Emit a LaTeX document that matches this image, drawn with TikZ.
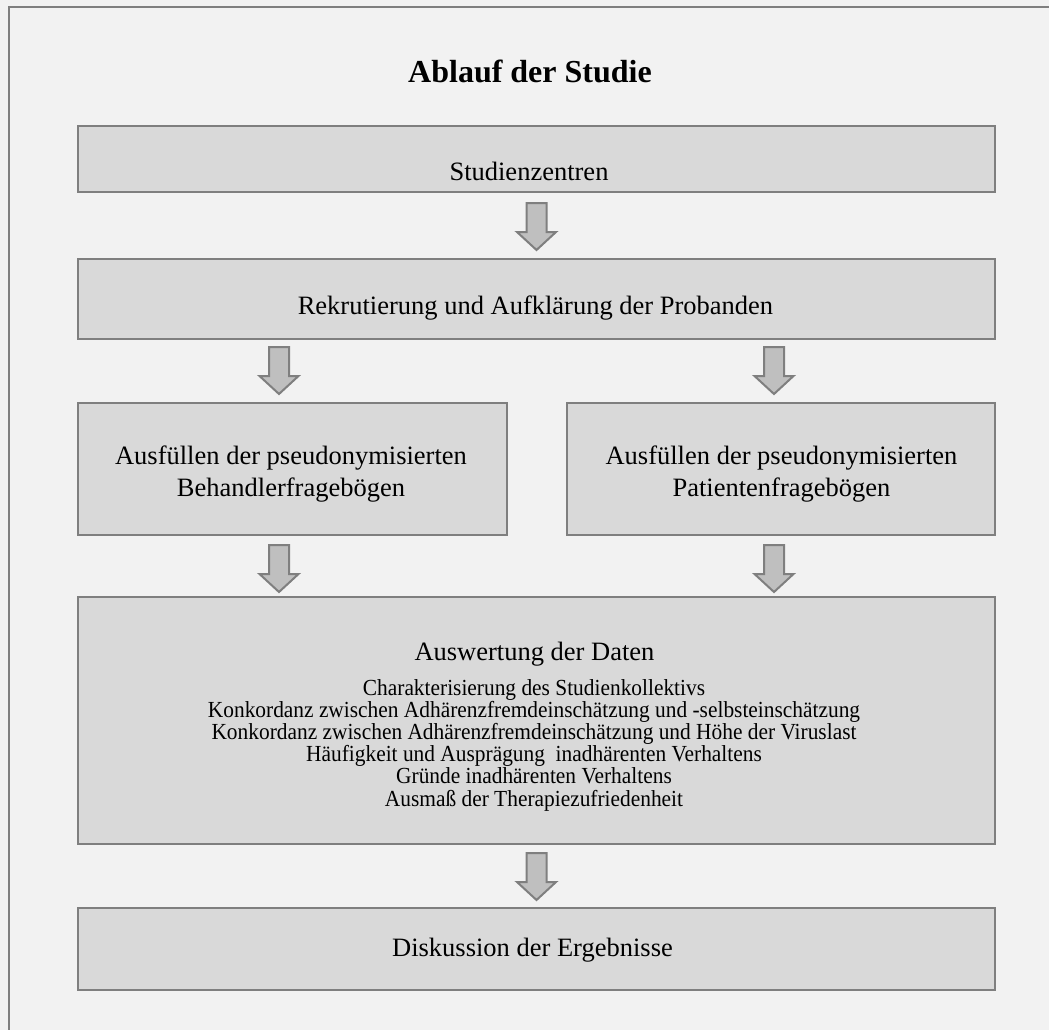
\documentclass[tikz,border=0pt]{standalone}
\usepackage{fontspec}
\setmainfont{Liberation Serif}
\usetikzlibrary{calc}
\definecolor{bgc}{HTML}{F2F2F2}
\definecolor{boxc}{HTML}{D9D9D9}
\definecolor{linec}{HTML}{7F7F7F}
\definecolor{arrc}{HTML}{BFBFBF}
\newcommand{\narrowtxt}[1]{\scalebox{0.93}[1]{#1}}
\tikzset{
  flowbox/.style={draw=linec, fill=boxc, line width=2.5pt, inner sep=0pt, outer sep=0pt, miter limit=10},
  bigtxt/.style={font=\fontsize{26.5}{32}\selectfont, anchor=base, inner sep=0pt},
  smalltxt/.style={font=\fontsize{23}{23.4}\selectfont, anchor=base, inner sep=0pt},
  arrowfill/.style={draw=linec, fill=arrc, line width=2pt, line join=miter},
  dnarrow/.pic={\draw[arrowfill] (-10,0) -- (10,0) -- (10,29) -- (19.5,29) -- (0,47) -- (-19.5,29) -- (-10,29) -- cycle;}
}
\begin{document}
\begin{tikzpicture}[x=1pt, y=-1pt]
\useasboundingbox (0,0) rectangle (1049,1030);
\fill[bgc] (0,0) rectangle (1049,1030);
\draw[linec, line width=2.5pt] (9,1030) -- (9,7) -- (1049,7);

\node[font=\fontsize{32}{38}\selectfont\bfseries, anchor=base, inner sep=0pt] (title) at (530,83) {Ablauf der Studie};

\node[flowbox, minimum width=917, minimum height=66] (b1) at (536.5,159) {};
\node[flowbox, minimum width=917, minimum height=80] (b2) at (536.5,299) {};
\node[flowbox, minimum width=429, minimum height=132] (b3l) at (292.5,469) {};
\node[flowbox, minimum width=428, minimum height=132] (b3r) at (781,469) {};
\node[flowbox, minimum width=917, minimum height=247] (b4) at (536.5,720.5) {};
\node[flowbox, minimum width=917, minimum height=82] (b5) at (536.5,949) {};

\node[bigtxt] (t1) at (529,180) {Studienzentren};
\node[bigtxt] (t2) at (535.5,314) {Rekrutierung und Aufklärung der Probanden};
\node[bigtxt] (t3la) at (291,464) {Ausfüllen der pseudonymisierten};
\node[bigtxt] (t3lb) at (291,496) {Behandlerfragebögen};
\node[bigtxt] (t3ra) at (781.5,464) {Ausfüllen der pseudonymisierten};
\node[bigtxt] (t3rb) at (781.5,496) {Patientenfragebögen};
\node[bigtxt] (t4) at (534.5,660) {Auswertung der Daten};
\node[smalltxt] (l1) at (534,695) {\narrowtxt{Charakterisierung des Studienkollektivs}};
\node[smalltxt] (l2) at (534,717.2) {\narrowtxt{Konkordanz zwischen Adhärenzfremdeinschätzung und -selbsteinschätzung}};
\node[smalltxt] (l3) at (534,739.4) {\narrowtxt{Konkordanz zwischen Adhärenzfremdeinschätzung und Höhe der Viruslast}};
\node[smalltxt] (l4) at (534,761.6) {\narrowtxt{Häufigkeit und Ausprägung~ inadhärenten Verhaltens}};
\node[smalltxt] (l5) at (534,783.8) {\narrowtxt{Gründe inadhärenten Verhaltens}};
\node[smalltxt] (l6) at (534,806) {\narrowtxt{Ausmaß der Therapiezufriedenheit}};
\node[bigtxt] (t5) at (532.5,956) {Diskussion der Ergebnisse};

\pic at ($(b1.south)+(0,11)$) {dnarrow};
\pic at ($(b2.south)+(-257.5,8)$) {dnarrow};
\pic at ($(b2.south)+(237.5,8)$) {dnarrow};
\pic at ($(b3l.south)+(-13.5,10)$) {dnarrow};
\pic at ($(b3r.south)+(-7,10)$) {dnarrow};
\pic at ($(b4.south)+(0,9)$) {dnarrow};
\end{tikzpicture}
\end{document}
